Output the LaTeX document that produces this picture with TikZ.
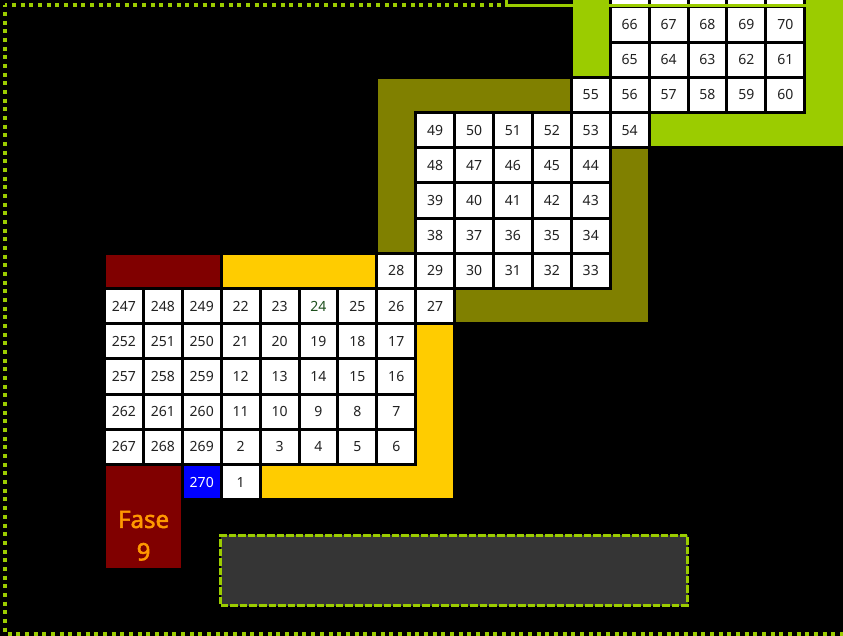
\documentclass[tikz,border=0pt]{standalone}
\usepackage{fontspec}
\newfontfamily\cellfont{Noto Sans}
\newfontfamily\fasefont[FakeBold=2.2]{Noto Sans}
\definecolor{mylime}{RGB}{155,204,0}
\definecolor{myolive}{RGB}{128,128,0}
\definecolor{myyellow}{RGB}{255,204,0}
\definecolor{mydarkred}{RGB}{128,0,0}
\definecolor{myblue}{RGB}{0,0,255}
\definecolor{myorange}{RGB}{255,153,0}
\definecolor{celltext}{RGB}{34,34,34}
\definecolor{mygreen}{RGB}{30,80,30}
\definecolor{boxgray}{RGB}{53,53,53}
\tikzset{
  cellbox/.style={rectangle, draw=black, line width=3pt, fill=white,
    minimum width=38.9pt, minimum height=35.2pt, inner sep=0pt, outer sep=0pt,
    font=\cellfont\fontsize{14}{16}\selectfont, text=celltext},
  borderdots/.style={mylime, line width=4pt, dash pattern=on 4pt off 4.67pt, dash phase=2pt},
}
\newcommand\cellrow[3]{%
  \foreach \t [count=\i from #2] in {#3} {%
    \node[cellbox] (n\t) at ({104.5+38.9*(\i+0.5)},{482.1-35.2*#1}) {\t};}}
\begin{document}
\begin{tikzpicture}[x=1pt, y=-1pt]
\useasboundingbox (0,0) rectangle (843,636);
\fill[black] (0,0) rectangle (843,636);

% coloured bands
\fill[mydarkred] (106,254.8) rectangle (219.7,287.0);
\fill[myyellow] (222.7,254.8) rectangle (375.3,287.0);
\fill[myyellow] (417.2,325.2) rectangle (453.1,498.2);
\fill[myyellow] (261.6,466.0) rectangle (453.1,498.2);
\fill[myolive] (456.1,290.0) rectangle (647.6,322.2);
\fill[myolive] (611.7,149.2) rectangle (647.6,322.2);
\fill[myolive] (378.3,78.8) rectangle (569.8,111.0);
\fill[myolive] (378.3,78.8) rectangle (414.2,251.8);
\fill[mylime] (572.8,-1) rectangle (608.7,75.8);
\fill[mylime] (806.2,-1) rectangle (844,146.2);
\fill[mylime] (650.6,114.0) rectangle (844,146.2);

% cells
\node[cellbox, fill=myblue, text=white] (n270) at ({104.5+38.9*2.5},{482.1}) {270};
\cellrow{0}{3}{1}
\cellrow{1}{0}{267,268,269,2,3,4,5,6}
\cellrow{2}{0}{262,261,260,11,10,9,8,7}
\cellrow{3}{0}{257,258,259,12,13,14,15,16}
\cellrow{4}{0}{252,251,250,21,20,19,18,17}
\cellrow{5}{0}{247,248,249,22,23}
\node[cellbox, text=mygreen] (n24) at ({104.5+38.9*5.5},{482.1-35.2*5}) {24};
\cellrow{5}{6}{25,26,27}
\cellrow{6}{7}{28,29,30,31,32,33}
\cellrow{7}{8}{38,37,36,35,34}
\cellrow{8}{8}{39,40,41,42,43}
\cellrow{9}{8}{48,47,46,45,44}
\cellrow{10}{8}{49,50,51,52,53,54}
\cellrow{11}{12}{55,56,57,58,59,60}
\cellrow{12}{13}{65,64,63,62,61}
\cellrow{13}{13}{66,67,68,69,70}
\foreach \i in {13,...,17} {\node[cellbox] (t\i) at ({104.5+38.9*(\i+0.5)},{482.1-35.2*14}) {};}

% lime top line
\draw[mylime, line width=3.5pt] (506.5,-2) -- (506.5,5.3) -- (846,5.3);

% dotted frame
\draw[borderdots] (5.3,5.3) -- (503,5.3);
\draw[borderdots] (5.3,5.3) -- (5.3,633.8) -- (846,633.8);

% grey panel
\node[draw=mylime, fill=boxgray, line width=3pt, dash pattern=on 7.6pt off 2pt,
  minimum width=467pt, minimum height=70.4pt, inner sep=0pt, outer sep=0pt]
  (panel) at (454,570.5) {};

% Fase 9
\fill[mydarkred] (106,466) rectangle (180.8,568);
\node[align=center, text=myorange, inner sep=0pt,
  font=\fasefont\fontsize{24}{32.4}\selectfont] (fase) at (143.6,535.7) {Fase\\9};
\end{tikzpicture}
\end{document}
